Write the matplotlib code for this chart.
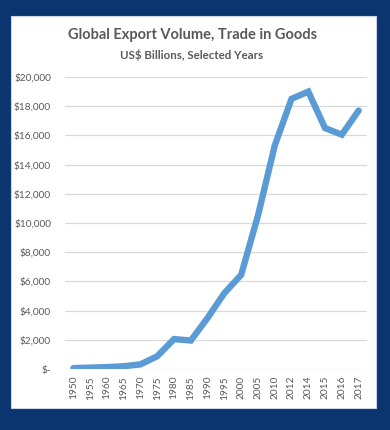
import matplotlib.pyplot as plt
from matplotlib.patches import Rectangle
from matplotlib.ticker import FuncFormatter

years = ["1950", "1955", "1960", "1965", "1970", "1975", "1980", "1985", "1990",
         "1995", "2000", "2005", "2010", "2012", "2014", "2015", "2016", "2017"]
exports = [62, 95, 130, 190, 317, 877, 2050, 1950, 3500, 5200, 6450,
           10500, 15300, 18500, 19000, 16500, 16050, 17700]
y_ticks = list(range(0, 20001, 2000))

NAVY = "#0a356f"
TEXT = "#595959"
LINE = "#5b9bd5"


def money(v, _pos):
    return "$-" if v == 0 else f"${v:,.0f}"


plt.rcParams["font.family"] = ["Lato", "DejaVu Sans"]

fig = plt.figure(figsize=(3.9, 4.3), dpi=100, facecolor=NAVY)
fig.patches.append(Rectangle((11 / 390, 22 / 430), 365 / 390, 392 / 430,
                             transform=fig.transFigure, facecolor="white",
                             edgecolor="#c9d3e3", linewidth=0.8, zorder=0))

ax = fig.add_axes([65 / 390, 61 / 430, 302 / 390, 292 / 430])
ax.set_zorder(2)
ax.set_facecolor("none")
x = range(len(years))
ax.plot(x, exports, color=LINE, linewidth=4.6, solid_capstyle="round",
        solid_joinstyle="miter", zorder=3)

ax.set_xlim(-0.5, len(years) - 0.5)
ax.set_ylim(0, 20000)
ax.set_yticks(y_ticks)
ax.yaxis.set_major_formatter(FuncFormatter(money))
ax.set_xticks(list(x))
ax.set_xticklabels(years, rotation=90, fontsize=7.3, color=TEXT)
ax.tick_params(axis="y", labelsize=7.3, labelcolor=TEXT, length=0, pad=10)
ax.tick_params(axis="x", length=0, pad=5)
ax.yaxis.grid(True, color="#d9d9d9", linewidth=0.9)
ax.set_axisbelow(True)
for s in ax.spines.values():
    s.set_visible(False)

fig.text(0.495, 1 - 35 / 430, "Global Export Volume, Trade in Goods",
         ha="center", va="center", fontsize=10.5, fontweight="bold", color=TEXT)
fig.text(0.49, 1 - 55 / 430, "US$ Billions, Selected Years",
         ha="center", va="center", fontsize=8.3, fontweight="bold", color=TEXT)

fig.savefig("out.png", dpi=100, facecolor=NAVY)
